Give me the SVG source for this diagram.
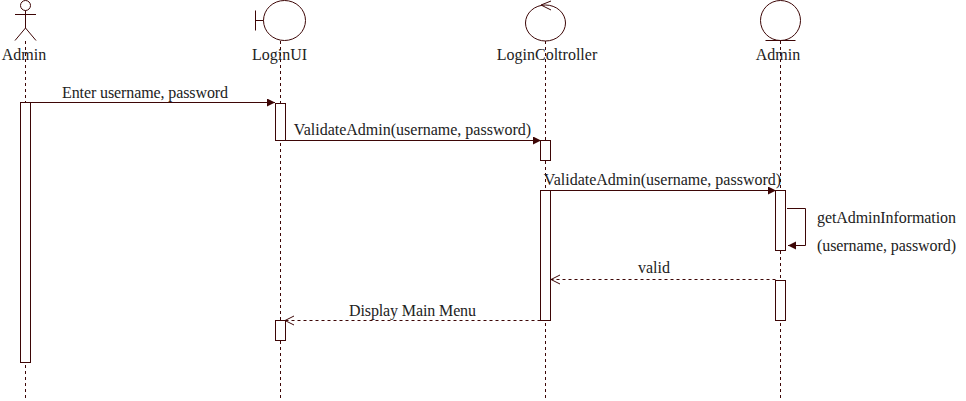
<svg xmlns="http://www.w3.org/2000/svg" width="966" height="401" viewBox="0 0 966 401">
<style>
text{font-family:"Liberation Serif","Times New Roman",serif;font-size:16px;fill:#222}
.s{fill:none;stroke:#3d0606;stroke-width:1}
.w{fill:#fff;stroke:#3d0606;stroke-width:1}
.life{fill:none;stroke:#3d0606;stroke-width:1;stroke-dasharray:3 3}
.msg{fill:none;stroke:#3d0606;stroke-width:1}
.ret{fill:none;stroke:#3d0606;stroke-width:1;stroke-dasharray:3 3}
.m{text-anchor:middle}
</style>
<defs>
<marker id="solid" markerUnits="userSpaceOnUse" markerWidth="10" markerHeight="10" refX="8" refY="4" orient="auto"><path d="M0 0L8 4L0 8Z" fill="#3d0606"/></marker>
<marker id="open" markerUnits="userSpaceOnUse" markerWidth="12" markerHeight="12" refX="10" refY="5.500" orient="auto"><path d="M1 1L10 5.500L1 10" fill="none" stroke="#3d0606"/></marker>
</defs>
<g id="lifelines">
<path class="life" d="M25.500 41V400"/>
<path class="life" d="M280.500 41V400"/>
<path class="life" d="M545.500 41V400"/>
<path class="life" d="M780.500 41V400"/>
</g>
<g id="node-admin-actor">
<circle class="s" cx="25.500" cy="5.500" r="5"/>
<path class="s" d="M25.500 10.500V28M15 14.500H36M25.500 28L15 40.500M25.500 28L36 40.500"/>
<text class="m" x="24" y="60">Admin</text>
</g>
<g id="node-loginui">
<ellipse class="s" cx="284.500" cy="20.500" rx="21" ry="20"/>
<path class="s" d="M255.500 10.500V30.500M255.500 20.500H263.500"/>
<text class="m" x="279.500" y="60">LoginUI</text>
</g>
<g id="node-logincontroller">
<ellipse class="s" cx="545.500" cy="23" rx="20" ry="18"/>
<path class="s" d="M551 1L541 5L551 10"/>
<text class="m" x="547" y="60">LoginColtroller</text>
</g>
<g id="node-admin-entity">
<circle class="s" cx="780.500" cy="20.500" r="20"/>
<path class="s" d="M765.500 40.500H795.500"/>
<text class="m" x="778" y="60">Admin</text>
</g>
<g id="activations">
<rect class="w" x="20.500" y="102.500" width="10" height="260"/>
<rect class="w" x="275.500" y="103.500" width="10" height="37"/>
<rect class="w" x="540.500" y="140.500" width="10" height="20"/>
<rect class="w" x="540.500" y="190.500" width="10" height="130"/>
<rect class="w" x="775.500" y="190.500" width="10" height="60"/>
<rect class="w" x="775.500" y="280.500" width="10" height="40"/>
<rect class="w" x="275.500" y="320.500" width="10" height="20"/>
</g>
<g id="connectors">
<path class="msg" marker-end="url(#solid)" d="M30.500 102.500H275"/>
<path class="msg" marker-end="url(#solid)" d="M285.500 140.500H541"/>
<path class="msg" marker-end="url(#solid)" d="M550.500 190.500H776"/>
<path class="msg" marker-end="url(#solid)" d="M787 208.500H805.500V245.500H788"/>
<path class="ret" marker-end="url(#open)" d="M775.500 279.500H551"/>
<path class="ret" marker-end="url(#open)" d="M540.500 320.500H285"/>
</g>
<g id="labels">
<text x="62" y="98" textLength="166">Enter username, password</text>
<text class="m" x="412.500" y="135">ValidateAdmin(username, password)</text>
<text class="m" x="662.500" y="185">ValidateAdmin(username, password)</text>
<text x="817" y="223" textLength="139">getAdminInformation</text>
<text x="817" y="251" textLength="139">(username, password)</text>
<text class="m" x="654" y="273">valid</text>
<text x="349" y="316" textLength="127">Display Main Menu</text>
</g>
</svg>
